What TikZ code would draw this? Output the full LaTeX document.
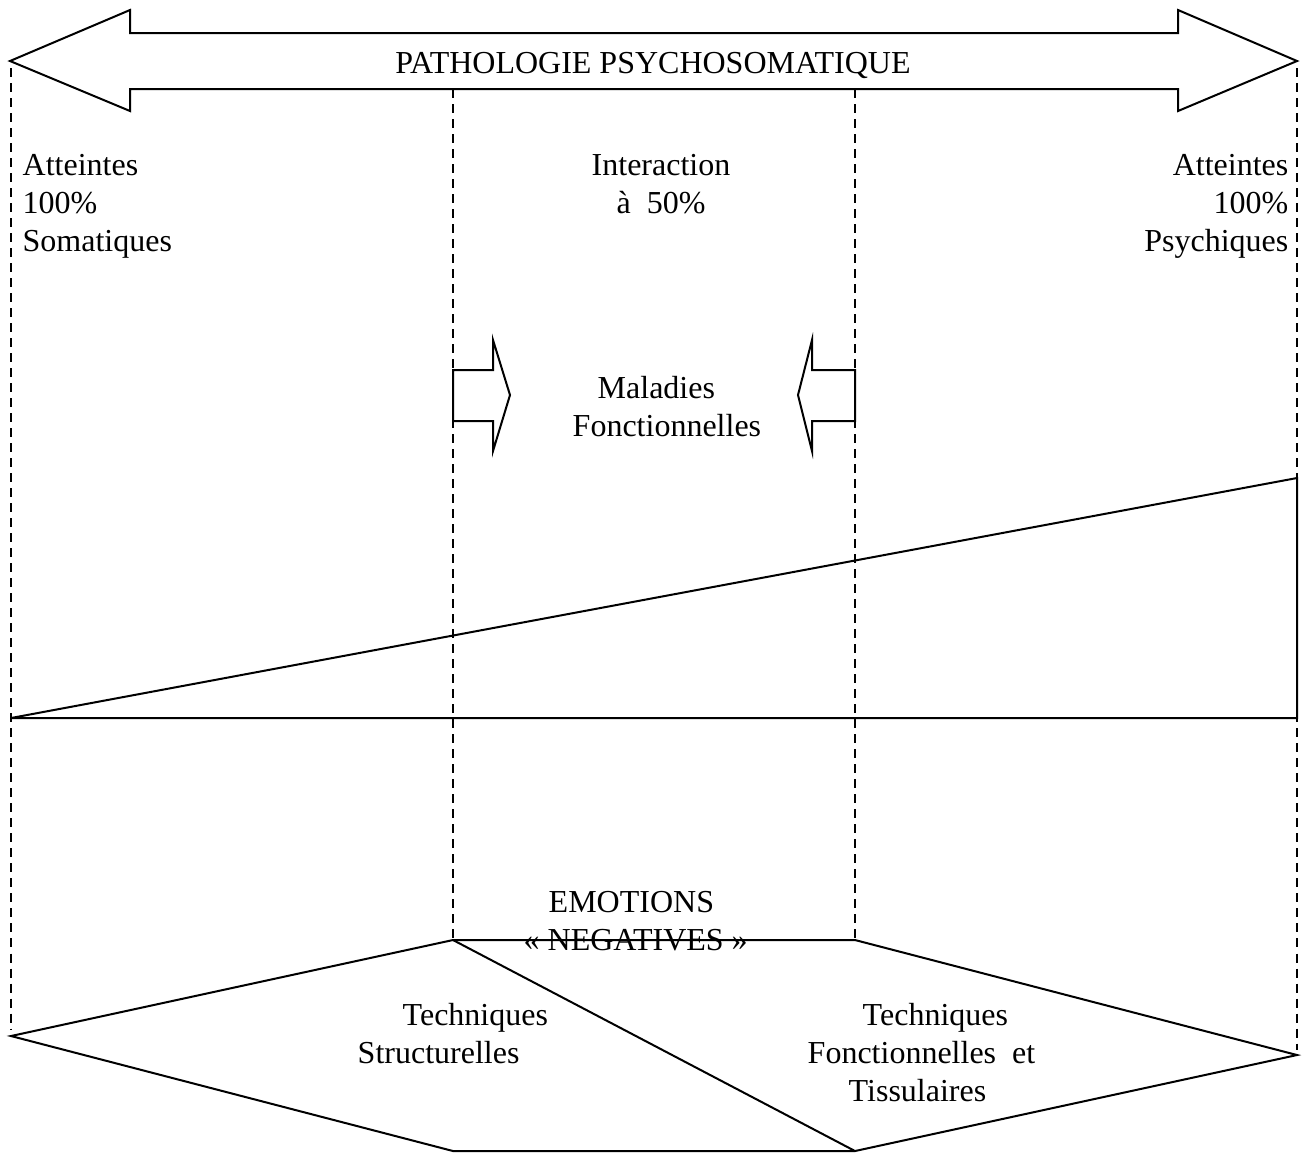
\documentclass[tikz,border=0pt]{standalone}
\usepackage{fontspec}
\setmainfont{Liberation Serif}
\usepackage{tikz}
\usetikzlibrary{positioning,calc}

\tikzset{
    outline/.style={line width=0.02cm, line join=miter},
    guide/.style={line width=0.014cm, dash pattern=on 0.09cm off 0.06cm},
    label/.style={inner sep=0pt, font=\fontsize{9.1pt}{10.7pt}\selectfont},
}

\begin{document}
\begin{tikzpicture}[x=0.01cm, y=-0.01cm]
    \useasboundingbox (0,0) rectangle (1312,1153);

    % Key points
    \coordinate (tl) at (11,68);
    \coordinate (tr) at (1297,68);
    \coordinate (ml) at (453,89);
    \coordinate (mr) at (855,89);
    \coordinate (base-l) at (11,718);
    \coordinate (base-r) at (1297,718);
    \coordinate (peak) at (1297,478);
    \coordinate (hex-w) at (11,1036);
    \coordinate (hex-e) at (1297,1055);
    \coordinate (hex-nw) at (453,940);
    \coordinate (hex-ne) at (855,940);
    \coordinate (hex-sw) at (453,1151);
    \coordinate (hex-se) at (855,1151);

    % Double arrow
    \draw[outline] (10,61) -- (130,10) -- (130,33) -- (1178,33) -- (1178,10) -- (1297,61)
        -- (1178,111) -- (1178,89) -- (130,89) -- (130,111) -- cycle;
    \node[label, anchor=base] (title) at (653,73) {PATHOLOGIE PSYCHOSOMATIQUE};

    % Dashed guides
    \draw[guide] (tl) -- (11,1030);
    \draw[guide] (tr) -- (1297,1050);
    \draw[guide] (ml) -- (hex-nw);
    \draw[guide] (mr) -- (hex-ne);

    % Upper labels
    \node[label, anchor=north west, align=left] (soma) at (22,154) {Atteintes\\100\%\\Somatiques};
    \node[label, anchor=north, align=center] (inter) at (661,154) {Interaction\\à\ \ 50\%};
    \node[label, anchor=north east, align=right] (psy) at (1289,154) {Atteintes\\100\%\\Psychiques};

    % Small arrows
    \draw[outline] (453,370) -- (493,370) -- (493,340) -- (510,395) -- (493,451) -- (493,421) -- (453,421) -- cycle;
    \draw[outline] (855,370) -- (812,370) -- (812,340) -- (798,395) -- (812,451) -- (812,421) -- (855,421) -- cycle;
    \node[label, anchor=north west, align=left] (fonc) at (572,376) {\hspace*{0.25cm}Maladies\\Fonctionnelles};

    % Triangle
    \draw[outline] (base-l) -- (peak) -- (base-r) -- cycle;

    % Hexagon
    \draw[outline] (hex-w) -- (hex-nw) -- (hex-ne) -- (hex-e) -- (hex-se) -- (hex-sw) -- cycle;
    \draw[outline] (hex-nw) -- (hex-se);
    \node[label, anchor=north west, align=left] (emo) at (523,891) {\hspace*{0.25cm}EMOTIONS\\«~NEGATIVES~»};
    \node[label, anchor=north west, align=left] (struct) at (357,1003) {\hspace*{0.45cm}Techniques\\Structurelles};
    \node[label, anchor=north west, align=left] (tissu) at (807,1003) {\hspace*{0.55cm}Techniques\\Fonctionnelles\ \ et\\\hspace*{0.41cm}Tissulaires};
\end{tikzpicture}
\end{document}
